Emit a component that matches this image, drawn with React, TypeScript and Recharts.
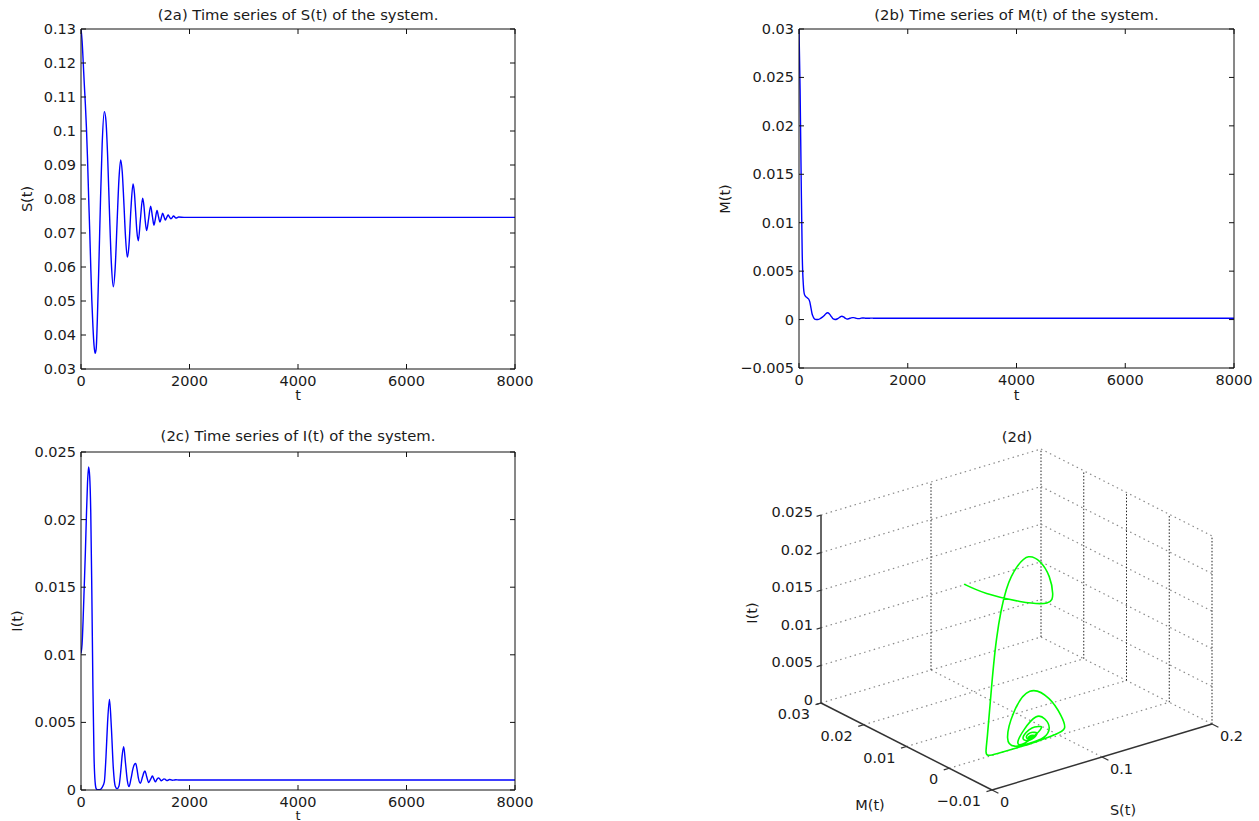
import React from 'react';
import { ComposedChart, LineChart, Line, XAxis, YAxis } from 'recharts';

const FONT = '"DejaVu Sans", "Liberation Sans", Arial, sans-serif';
const FS = 14.5;

// ---- time series data ----
const timePoints = [
  0, 20, 40, 60, 80, 100, 120, 140, 160, 180, 200, 220, 240, 260, 280, 300,
  330, 360, 390, 430, 460, 490, 525, 560, 596, 630, 665, 700, 731, 760, 787,
  820, 854, 885, 920, 959, 985, 1008, 1030, 1057, 1094, 1136, 1160, 1180, 1210,
  1248, 1284, 1316, 1345, 1370, 1401, 1430, 1455, 1480, 1505, 1530, 1555, 1580,
  1605, 1630, 1655, 1680, 1705, 1750, 1800, 1900, 2000, 2500, 3000, 4000, 5000,
  6000, 7000, 8000,
];

const sValues = [
  0.13, 0.1265, 0.1205, 0.114, 0.108, 0.101, 0.092, 0.081, 0.071, 0.06, 0.05, 0.0425, 0.037, 0.0346, 0.036, 0.044,
  0.061, 0.08, 0.096, 0.1057, 0.103, 0.093, 0.076, 0.061, 0.0542, 0.0597, 0.073, 0.086, 0.0915, 0.088, 0.08,
  0.069, 0.0629, 0.0665, 0.077, 0.0844, 0.0817, 0.076, 0.0705, 0.0677, 0.0738, 0.0802, 0.078, 0.0742, 0.0707,
  0.0744, 0.0779, 0.0749, 0.0723, 0.0741, 0.0766, 0.0747, 0.0732, 0.0745, 0.0758, 0.0748, 0.0738, 0.07455,
  0.0753, 0.07475, 0.0742, 0.0745, 0.075, 0.0744, 0.0747, 0.0746, 0.0746, 0.0746, 0.0746, 0.0746, 0.0746,
  0.0746, 0.0746, 0.0746,
];

const mValues = [
  0.03, 0.0238, 0.0145, 0.0065, 0.0036, 0.0026, 0.0024, 0.0023, 0.0022, 0.0021, 0.0018, 0.0012, 0.0006, 0.0003, 0.0001, 0.00002,
  0.0, 0.00002, 0.0001, 0.00025, 0.0004, 0.00058, 0.0007, 0.00058, 0.0003, 0.00006, 0.00001, 0.00006, 0.00016, 0.00028, 0.00035,
  0.00028, 0.00013, 0.00005, 0.0001, 0.00018, 0.0002, 0.0002, 0.00017, 0.00013, 0.0001, 0.00013, 0.00016, 0.00017, 0.00015,
  0.00013, 0.00013, 0.00015, 0.00015, 0.00014, 0.00014, 0.00014, 0.00014, 0.00014, 0.00014, 0.00014, 0.00014, 0.00014,
  0.00014, 0.00014, 0.00014, 0.00014, 0.00014, 0.00014, 0.00014, 0.00014, 0.00014, 0.00014, 0.00014, 0.00014, 0.00014,
  0.00014, 0.00014, 0.00014,
];

const iValues = [
  0.0101, 0.0108, 0.0127, 0.0151, 0.0175, 0.0203, 0.0227, 0.0239, 0.0232, 0.0205, 0.0145, 0.0075, 0.0025, 0.0006, 0.0001, 0.00003,
  0.00002, 0.00005, 0.0002, 0.0006, 0.0024, 0.005, 0.0067, 0.0046, 0.0016, 0.0003, 0.0001, 0.0003, 0.0013, 0.0026, 0.0032,
  0.002, 0.0007, 0.00025, 0.0008, 0.0016, 0.0019, 0.00197, 0.0016, 0.0009, 0.0005, 0.001, 0.0013, 0.0014, 0.001,
  0.00055, 0.0008, 0.00103, 0.0008, 0.0006, 0.0008, 0.0009, 0.0008, 0.00068, 0.00075, 0.00082, 0.00078, 0.0007,
  0.00072, 0.00078, 0.00076, 0.00072, 0.00073, 0.00076, 0.00074, 0.00074, 0.00074, 0.00074, 0.00074, 0.00074, 0.00074,
  0.00074, 0.00074, 0.00074,
];

// ---- axis ticks ----
const tTicks = [0, 2000, 4000, 6000, 8000];
const sTicks = [0.03, 0.04, 0.05, 0.06, 0.07, 0.08, 0.09, 0.1, 0.11, 0.12, 0.13];
const mTicks = [-0.005, 0, 0.005, 0.01, 0.015, 0.02, 0.025, 0.03];
const iTicks = [0, 0.005, 0.01, 0.015, 0.02, 0.025];

// 3-D box ticks
const box3dS = [0, 0.1, 0.2];
const box3dM = [0.03, 0.02, 0.01, 0, -0.01];
const box3dI = [0, 0.005, 0.01, 0.015, 0.02, 0.025];

const panelTitles = [
  '(2a) Time series of S(t) of the system.',
  '(2b) Time series of M(t) of the system.',
  '(2c) Time series of I(t) of the system.',
  '(2d)',
];

const fmt = (v: number): string => {
  const r = Math.round(v * 1e6) / 1e6;
  const s = String(Math.abs(r));
  return r < 0 ? '\u2212' + s : s;
};

const rows = timePoints.map((t, k) => ({ t, S: sValues[k], M: mValues[k], I: iValues[k] }));

// ---- 2D panels ----
const PAD_L = 70;
const PAD_T = 10;
const PAD_R = 30;
const PAD_B = 40;
const AX = '#111';

function BottomTick(props: any) {
  const { x, y, payload } = props;
  return (
    <g>
      <line x1={x} x2={x} y1={y} y2={y - 5} stroke={AX} strokeWidth={1} />
      <text x={x} y={y + 17} textAnchor="middle" fontFamily={FONT} fontSize={FS} fill="#1a1a1a">
        {fmt(payload.value)}
      </text>
    </g>
  );
}
function TopTick(props: any) {
  const { x, y } = props;
  return <line x1={x} x2={x} y1={y} y2={y + 5} stroke={AX} strokeWidth={1} />;
}
function LeftTick(props: any) {
  const { x, y, payload } = props;
  return (
    <g>
      <line x1={x} x2={x + 5} y1={y} y2={y} stroke={AX} strokeWidth={1} />
      <text x={x - 5} y={y + 5} textAnchor="end" fontFamily={FONT} fontSize={FS} fill="#1a1a1a">
        {fmt(payload.value)}
      </text>
    </g>
  );
}
function RightTick(props: any) {
  const { x, y } = props;
  return <line x1={x} x2={x - 5} y1={y} y2={y} stroke={AX} strokeWidth={1} />;
}

type Rect = { x: number; y: number; w: number; h: number };

function TimePanel({ rect, dataKey, yTicks }: { rect: Rect; dataKey: string; yTicks: number[] }) {
  const width = rect.w + PAD_L + PAD_R;
  const height = rect.h + PAD_T + PAD_B;
  const yDom: [number, number] = [yTicks[0], yTicks[yTicks.length - 1]];
  const axisLine = { stroke: AX, strokeWidth: 1 };
  return (
    <div style={{ position: 'absolute', left: rect.x - PAD_L, top: rect.y - PAD_T }}>
      <LineChart width={width} height={height} data={rows} margin={{ top: 0, right: PAD_R - 10, bottom: 10, left: 10 }}>
        <XAxis xAxisId="b" dataKey="t" type="number" domain={[0, 8000]} ticks={tTicks} orientation="bottom"
          height={30} tickSize={0} tickMargin={0} tickLine={false} tick={<BottomTick />} interval={0}
          axisLine={axisLine} allowDataOverflow />
        <XAxis xAxisId="t" dataKey="t" type="number" domain={[0, 8000]} ticks={tTicks} orientation="top"
          height={10} tickSize={0} tickMargin={0} tickLine={false} tick={<TopTick />} interval={0}
          axisLine={axisLine} allowDataOverflow />
        <YAxis yAxisId="l" type="number" domain={yDom} ticks={yTicks} orientation="left" width={60}
          tickSize={0} tickMargin={0} tickLine={false} tick={<LeftTick />} interval={0}
          axisLine={axisLine} allowDataOverflow />
        <YAxis yAxisId="r" type="number" domain={yDom} ticks={yTicks} orientation="right" width={10}
          tickSize={0} tickMargin={0} tickLine={false} tick={<RightTick />} interval={0}
          axisLine={axisLine} allowDataOverflow />
        <Line xAxisId="b" yAxisId="l" type="monotone" dataKey={dataKey} stroke="#0000ff" strokeWidth={1.4}
          dot={false} activeDot={false} isAnimationActive={false} />
      </LineChart>
    </div>
  );
}

// ---- 3D panel ----
const proj = (s: number, m: number, i: number) => ({
  u: (s / 0.2) * 220 + ((0.03 - m) / 0.04) * 171,
  v: (s / 0.2) * 66 - ((0.03 - m) / 0.04) * 87 + (i / 0.025) * 188,
});

type P3 = [number, number, number];
type Seg = { a: P3; b: P3; kind: 'vert' | 'flat' | 'axis' | 'tick' };

const segs: Seg[] = [];
box3dM.forEach((m) => { if (m !== -0.01) segs.push({ a: [0, m, 0], b: [0.2, m, 0], kind: 'flat' }); });
box3dS.forEach((s) => { if (s !== 0) segs.push({ a: [s, 0.03, 0], b: [s, -0.01, 0], kind: 'flat' }); });
box3dI.forEach((i) => { if (i !== 0) segs.push({ a: [0, 0.03, i], b: [0.2, 0.03, i], kind: 'flat' }); });
box3dS.forEach((s) => { if (s !== 0) segs.push({ a: [s, 0.03, 0], b: [s, 0.03, 0.025], kind: 'vert' }); });
box3dI.forEach((i) => { if (i !== 0) segs.push({ a: [0.2, 0.03, i], b: [0.2, -0.01, i], kind: 'flat' }); });
box3dM.forEach((m) => { if (m !== 0.03) segs.push({ a: [0.2, m, 0], b: [0.2, m, 0.025], kind: 'vert' }); });
segs.push({ a: [0, 0.03, 0], b: [0, 0.03, 0.025], kind: 'axis' });
segs.push({ a: [0, 0.03, 0], b: [0, -0.01, 0], kind: 'axis' });
segs.push({ a: [0, -0.01, 0], b: [0.2, -0.01, 0], kind: 'axis' });
box3dI.forEach((i) => segs.push({ a: [0, 0.03, i], b: [-0.004, 0.03, i], kind: 'tick' }));
box3dM.forEach((m) => segs.push({ a: [0, m, 0], b: [-0.005, m, 0], kind: 'tick' }));
box3dS.forEach((s) => segs.push({ a: [s, -0.01, 0], b: [s, -0.0115, 0], kind: 'tick' }));

const segStyle: Record<string, any> = {
  vert: { stroke: '#222', strokeWidth: 1, strokeDasharray: '1.5 1.8' },
  flat: { stroke: '#8a8a8a', strokeWidth: 1.2, strokeDasharray: '1.5 3.5' },
  axis: { stroke: '#333', strokeWidth: 1.5 },
  tick: { stroke: '#333', strokeWidth: 1.2 },
};

const trajPts = rows.filter((r) => r.t <= 2000).map((r) => proj(r.S, r.M, r.I));
const iLabelPts = box3dI.map((i) => ({ ...proj(0, 0.03, i), label: fmt(i) }));
const mLabelPts = box3dM.map((m) => ({ ...proj(0, m, 0), label: fmt(m) }));
const sLabelPts = box3dS.map((s) => ({ ...proj(s, -0.01, 0), label: fmt(s) }));

const labelDot = (dx: number, dy: number, anchor: string) => (p: any) => (
  <text key={`lab-${p.index}`} x={p.cx + dx} y={p.cy + dy} textAnchor={anchor as any}
    fontFamily={FONT} fontSize={FS} fill="#1a1a1a">
    {p.payload.label}
  </text>
);

const U0 = -90;
const U1 = 430;
const V0 = -115;
const V1 = 270;
const ORIGIN_X = 821;
const ORIGIN_Y = 703;

function Panel3D() {
  return (
    <div style={{ position: 'absolute', left: ORIGIN_X + U0, top: ORIGIN_Y - V1 }}>
      <ComposedChart width={U1 - U0} height={V1 - V0} margin={{ top: 0, right: 0, bottom: 0, left: 0 }}>
        <XAxis dataKey="u" type="number" domain={[U0, U1]} hide allowDataOverflow />
        <YAxis dataKey="v" type="number" domain={[V0, V1]} hide allowDataOverflow />
        {segs.map((sg, k) => (
          <Line key={`seg-${k}`} data={[proj(...sg.a), proj(...sg.b)]} dataKey="v" type="linear"
            dot={false} activeDot={false} isAnimationActive={false} {...segStyle[sg.kind]} />
        ))}
        <Line key="traj" data={trajPts} dataKey="v" type="natural" stroke="#00ff00" strokeWidth={1.6}
          dot={false} activeDot={false} isAnimationActive={false} />
        <Line key="ilab" data={iLabelPts} dataKey="v" stroke="none" dot={labelDot(-8, 2, 'end')}
          activeDot={false} isAnimationActive={false} />
        <Line key="mlab" data={mLabelPts} dataKey="v" stroke="none" dot={labelDot(-11, 16, 'end')}
          activeDot={false} isAnimationActive={false} />
        <Line key="slab" data={sLabelPts} dataKey="v" stroke="none" dot={labelDot(8, 17, 'start')}
          activeDot={false} isAnimationActive={false} />
      </ComposedChart>
    </div>
  );
}

function Txt({ x, y, text, rotate, size }: { x: number; y: number; text: string; rotate?: boolean; size?: number }) {
  return (
    <div
      style={{
        position: 'absolute',
        left: x,
        top: y,
        transform: `translate(-50%, -50%)${rotate ? ' rotate(-90deg)' : ''}`,
        fontFamily: FONT,
        fontSize: size ?? FS,
        lineHeight: 1,
        whiteSpace: 'nowrap',
        color: '#1a1a1a',
      }}
    >
      {text}
    </div>
  );
}

const rectA: Rect = { x: 81, y: 29, w: 434, h: 340 };
const rectB: Rect = { x: 799, y: 29, w: 435, h: 339 };
const rectC: Rect = { x: 81, y: 452, w: 434, h: 338 };

export default function App() {
  return (
    <div style={{ position: 'absolute', left: 0, top: 0, width: 1259, height: 821, overflow: 'hidden', background: '#fff' }}>
      <TimePanel rect={rectA} dataKey="S" yTicks={sTicks} />
      <TimePanel rect={rectB} dataKey="M" yTicks={mTicks} />
      <TimePanel rect={rectC} dataKey="I" yTicks={iTicks} />
      <Panel3D />

      <Txt x={298} y={14.5} text={panelTitles[0]} size={14.8} />
      <Txt x={1016.5} y={15} text={panelTitles[1]} size={14.8} />
      <Txt x={298} y={436} text={panelTitles[2]} size={14.8} />
      <Txt x={1017} y={437} text={panelTitles[3]} size={14.8} />

      <Txt x={298} y={395} text="t" />
      <Txt x={1016.5} y={395} text="t" />
      <Txt x={298} y={815} text="t" size={13} />

      <Txt x={26.5} y={199} text="S(t)" rotate />
      <Txt x={725} y={198.5} text="M(t)" rotate />
      <Txt x={17} y={621} text="I(t)" rotate />

      <Txt x={752} y={613} text="I(t)" rotate />
      <Txt x={870} y={805} text="M(t)" />
      <Txt x={1123} y={810} text="S(t)" />
    </div>
  );
}
